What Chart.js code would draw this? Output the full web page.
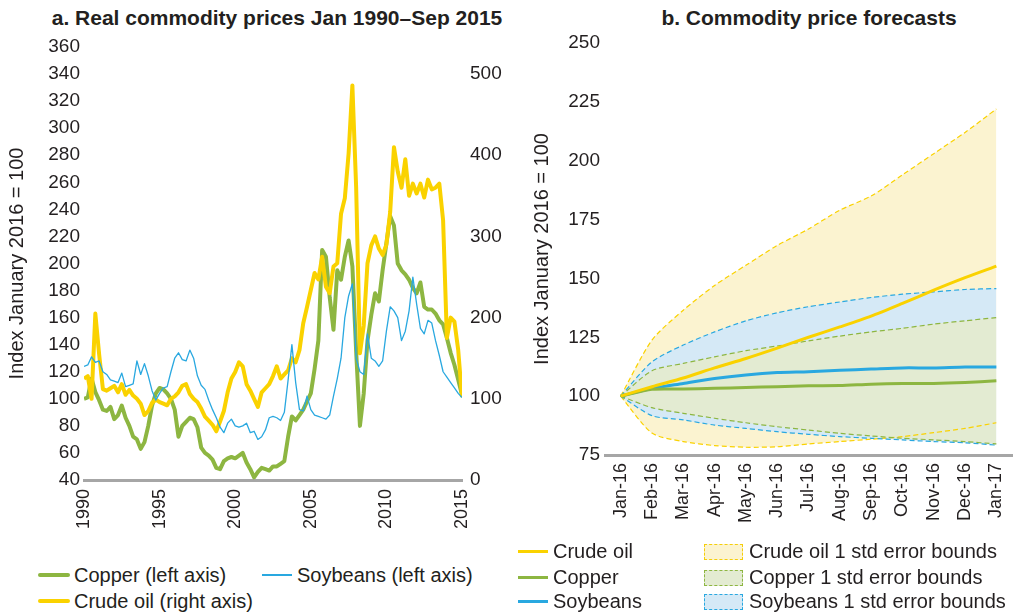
<!DOCTYPE html>
<html>
<head>
<meta charset="utf-8">
<script src="https://cdn.jsdelivr.net/npm/chart.js@4.4.1/dist/chart.umd.min.js"></script>
<style>
  body { margin: 0; width: 1026px; height: 615px; position: relative; overflow: hidden; background: #fff;
         font-family: 'Liberation Sans', Arial, sans-serif; color: #231F20; }
  .box { position: absolute; }
  .title { position: absolute; top: 6px; font-weight: bold; font-size: 21px; text-align: center; white-space: nowrap; }
  .lg { position: absolute; font-size: 20px; line-height: 24px; height: 24px; white-space: nowrap; }
  .sw { position: absolute; }
</style>
</head>
<body>
<div class="title" style="left:0; width:554px;">a. Real commodity prices Jan 1990–Sep 2015</div>
<div class="title" style="left:612px; width:394px;">b. Commodity price forecasts</div>
<div class="box" style="left:0; top:0; width:520px; height:540px;"><canvas id="chartA"></canvas></div>
<div class="box" style="left:520px; top:0; width:506px; height:540px;"><canvas id="chartB"></canvas></div>

<!-- legend panel a -->
<div class="sw" style="left:38px; top:573px; width:32px; height:4px; background:#8DB641; border-radius:2px;"></div>
<div class="lg" style="left:74px; top:563px;">Copper (left axis)</div>
<div class="sw" style="left:262px; top:574px; width:30px; height:1.5px; background:#29A8E0;"></div>
<div class="lg" style="left:297px; top:563px;">Soybeans (left axis)</div>
<div class="sw" style="left:38px; top:599px; width:32px; height:4px; background:#FAD200; border-radius:2px;"></div>
<div class="lg" style="left:74px; top:589px;">Crude oil (right axis)</div>

<!-- legend panel b -->
<div class="sw" style="left:518px; top:550px; width:30px; height:3px; background:#FAD200;"></div>
<div class="lg" style="left:553px; top:539px;">Crude oil</div>
<div class="sw" style="left:518px; top:576px; width:30px; height:3px; background:#8DB641;"></div>
<div class="lg" style="left:553px; top:565px;">Copper</div>
<div class="sw" style="left:518px; top:600px; width:30px; height:2.5px; background:#29A8E0;"></div>
<div class="lg" style="left:553px; top:589px;">Soybeans</div>
<div class="sw" style="left:704px; top:544px; width:37px; height:14px; background:#FBF3D0; border:1px dashed #F5CE0A;"></div>
<div class="lg" style="left:749px; top:539px;">Crude oil 1 std error bounds</div>
<div class="sw" style="left:704px; top:570px; width:37px; height:14px; background:#E3EBD2; border:1px dashed #8DB641;"></div>
<div class="lg" style="left:749px; top:565px;">Copper 1 std error bounds</div>
<div class="sw" style="left:704px; top:594px; width:37px; height:14px; background:#D5E9F6; border:1px dashed #29A8E0;"></div>
<div class="lg" style="left:749px; top:589px;">Soybeans 1 std error bounds</div>

<script>
// ---- panel a: quarterly readings, Jan 1990 onward ----
const quarters = Array.from({ length: 101 }, (_, i) => 1990 + i / 4);
const yearTicks = [1990, 1995, 2000, 2005, 2010, 2015];

// Index January 2016 = 100 (left axis)
const copper = [
  100, 101, 115, 105,  99, 92, 91, 94,  85, 88, 95, 86,  80, 72, 70, 63,
  68, 80, 95, 104,  108, 107, 104, 100,  92, 72, 80, 83,  86, 85, 79, 64,
  60, 58, 55, 49,  48, 54, 56, 57,  56, 58, 60, 53,  48, 42, 46, 49,
  48, 47, 50, 50,  52, 54, 72, 87,  84, 88, 92, 98,  104, 122, 143, 210,
  205, 175, 151, 195,  188, 205, 217, 198,  135, 80, 104, 143,  162, 178, 172, 195,
  215, 235, 228, 200,  195, 192, 188, 182,  178, 186, 168, 166,  166, 163, 158, 155,
  145, 134, 125, 114,  103
];
const soybeans = [
  124, 125, 131, 127,  128, 120, 118, 114,  113, 112, 119, 109,  110, 111, 128, 118,
  126, 117, 106, 99,  104, 108, 109, 120,  130, 134, 129, 128,  136, 130, 117, 110,
  107, 99, 92, 86,  79, 75, 82, 85,  80, 79, 80, 82,  75, 76, 70, 72,
  77, 86, 87, 86,  84, 90, 114, 140,  112, 92, 91, 102,  92, 88, 87, 86,
  85, 88, 102, 115,  130, 160, 176, 185,  130, 120, 118, 148,  130, 128, 124, 128,
  150, 168, 165, 160,  143, 150, 165, 190,  170, 152, 148, 158,  156, 143, 132, 120,
  116, 112, 108, 104,  101
];
// right axis
const crudeOil = [
  125, 128, 100, 205,  155, 112, 110, 113,  116, 108, 118, 105,  111, 104, 100, 94,
  80, 85, 95, 99,  96, 94, 92, 100,  103, 108, 116, 118,  106, 100, 96, 88,
  78, 73, 68, 60,  72, 85, 108, 125,  133, 145, 140, 118,  110, 100, 90, 108,
  113, 118, 128, 140,  125, 130, 135, 150,  145, 160, 193, 213,  234, 255, 247, 275,
  238, 230, 263, 267,  328, 347, 402, 486,  360, 156, 190, 267,  289, 300, 285, 277,
  290, 330, 410, 380,  360, 395, 350, 365,  353, 365, 348, 370,  358, 360, 365, 320,
  175, 200, 195, 160,  102
];

// ---- panel b: monthly forecasts ----
const months = ['Jan-16', 'Feb-16', 'Mar-16', 'Apr-16', 'May-16', 'Jun-16', 'Jul-16',
                'Aug-16', 'Sep-16', 'Oct-16', 'Nov-16', 'Dec-16', 'Jan-17'];
const oilMean     = [100, 104, 107.7, 112, 116, 120.4, 125, 129.4, 134, 139.4, 145, 150.3, 155.2];
const copperMean  = [100, 102.9, 103, 103.3, 103.7, 104, 104.4, 104.5, 105.1, 105.4, 105.4, 105.8, 106.5];
const soyMean     = [100, 103.3, 105.4, 107.5, 109, 110, 110.4, 111, 111.5, 112, 112, 112.4, 112.4];
const oilUpper    = [100, 123.8, 136.5, 147, 155.6, 164, 171, 179, 185, 194, 203, 212, 222];
const oilLower    = [100, 84.3, 80.7, 79, 78.3, 78.5, 79.7, 80.7, 81.7, 82.8, 84.5, 86.3, 88.7];
const copperUpper = [100, 110.8, 113.9, 116.7, 119.3, 121.3, 123.5, 125.5, 127.3, 128.8, 130.6, 132, 133.4];
const copperLower = [100, 95.1, 92.7, 90.6, 88.7, 87, 85.6, 84.2, 83.1, 82.1, 81.4, 80.7, 79.7];
const soyUpper    = [100, 114.6, 121.7, 127.3, 132, 135.4, 138, 140, 141.9, 143.3, 144.3, 145.3, 145.7];
const soyLower    = [100, 91.7, 89.9, 87.7, 86.3, 84.9, 83.8, 82.8, 82.1, 81.4, 80.7, 80.2, 79.2];

const YELLOW = '#FAD200', GREEN = '#8DB641', BLUE = '#29A8E0';
const AXIS_GREY = '#A6A6A6';

Chart.defaults.font.family = "'Liberation Sans', Arial, sans-serif";
Chart.defaults.color = '#231F20';
Chart.defaults.animation = false;

const pts = (arr) => quarters.map((q, i) => ({ x: q, y: arr[i] }));

new Chart(document.getElementById('chartA'), {
  type: 'line',
  data: {
    datasets: [
      { label: 'Soybeans (left axis)', data: pts(soybeans), borderColor: BLUE, borderWidth: 1.3,
        yAxisID: 'y', order: 0 },
      { label: 'Crude oil (right axis)', data: pts(crudeOil), borderColor: YELLOW, borderWidth: 4,
        yAxisID: 'y2', order: 1 },
      { label: 'Copper (left axis)', data: pts(copper), borderColor: GREEN, borderWidth: 4,
        yAxisID: 'y', order: 2 },
    ],
  },
  options: {
    responsive: true,
    maintainAspectRatio: false,
    layout: { padding: { top: 47, left: 0, right: 0, bottom: 0 } },
    elements: { point: { radius: 0 }, line: { borderJoinStyle: 'round', tension: 0 } },
    plugins: { legend: { display: false }, tooltip: { enabled: false } },
    scales: {
      x: {
        type: 'linear', min: 1990, max: 2015,
        afterBuildTicks: (s) => { s.ticks = yearTicks.map(v => ({ value: v })); },
        afterFit: (s) => { s.height = 60; },
        grid: { display: false, drawTicks: false },
        border: { display: true, color: AXIS_GREY, width: 3 },
        ticks: { minRotation: 90, maxRotation: 90, autoSkip: false, padding: 9,
                 font: { size: 18 }, callback: (v) => String(v) },
      },
      y: {
        position: 'left', min: 40, max: 360,
        ticks: { stepSize: 20, padding: 4, font: { size: 19 } },
        afterFit: (s) => { s.width = 84; },
        grid: { display: false, drawTicks: false },
        border: { display: false },
        title: { display: true, text: 'Index January 2016 = 100', font: { size: 20 }, padding: { top: 5 } },
      },
      y2: {
        position: 'right', min: 0, max: 533.33,
        afterBuildTicks: (s) => { s.ticks = [0, 100, 200, 300, 400, 500].map(v => ({ value: v })); },
        ticks: { padding: 8, font: { size: 19 } },
        afterFit: (s) => { s.width = 58; },
        grid: { display: false, drawTicks: false },
        border: { display: false },
      },
    },
  },
});

const band = (label, data, color, fillColor, fill, order) => ({
  label, data, borderColor: color, borderWidth: 1.2, borderDash: [5, 3],
  backgroundColor: fillColor, fill, order,
});

new Chart(document.getElementById('chartB'), {
  type: 'line',
  data: {
    labels: months,
    datasets: [
      { label: 'Crude oil', data: oilMean, borderColor: YELLOW, borderWidth: 3, order: 0 },
      { label: 'Copper', data: copperMean, borderColor: GREEN, borderWidth: 3, order: 0 },
      { label: 'Soybeans', data: soyMean, borderColor: BLUE, borderWidth: 3, order: 0 },
      band('Crude oil 1 std error bounds', oilUpper, YELLOW, '#FBF3D0', '+1', 3),
      band('Crude oil lower', oilLower, YELLOW, '#FBF3D0', false, 3),
      band('Soybeans 1 std error bounds', soyUpper, BLUE, '#D5E9F6', '+1', 2),
      band('Soybeans lower', soyLower, BLUE, '#D5E9F6', false, 2),
      band('Copper 1 std error bounds', copperUpper, GREEN, '#E3EBD2', '+1', 1),
      band('Copper lower', copperLower, GREEN, '#E3EBD2', false, 1),
    ],
  },
  options: {
    responsive: true,
    maintainAspectRatio: false,
    layout: { padding: { top: 43, left: 0, right: 1, bottom: 0 } },
    elements: { point: { radius: 0 }, line: { tension: 0.25 } },
    plugins: { legend: { display: false }, tooltip: { enabled: false },
               filler: { drawTime: 'beforeDatasetsDraw' } },
    scales: {
      x: {
        offset: true,
        afterFit: (s) => { s.height = 85; },
        grid: { display: false, drawTicks: false },
        border: { display: true, color: AXIS_GREY, width: 3 },
        ticks: { minRotation: 90, maxRotation: 90, autoSkip: false, padding: 8, font: { size: 18 } },
      },
      y: {
        min: 75, max: 250,
        ticks: { stepSize: 25, padding: 5, font: { size: 19 } },
        afterFit: (s) => { s.width = 85; },
        grid: { display: false, drawTicks: false },
        border: { display: false },
        title: { display: true, text: 'Index January 2016 = 100', font: { size: 20 }, padding: { top: 10 } },
      },
    },
  },
});
</script>
</body>
</html>
